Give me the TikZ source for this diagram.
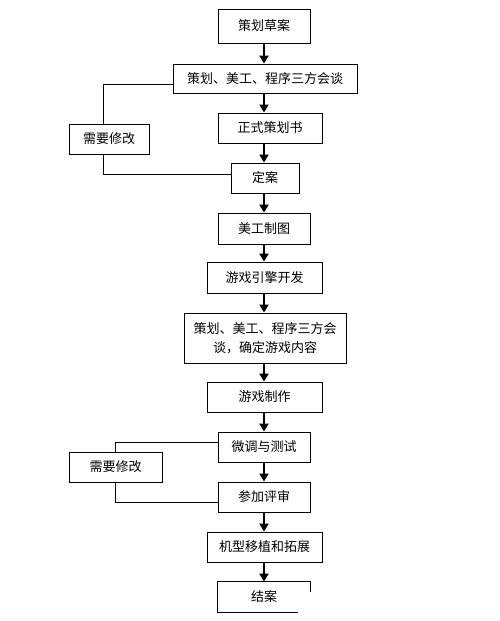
\documentclass[tikz,border=0pt]{standalone}
\usepackage{fontspec}
\setmainfont{Noto Sans CJK SC}
\usetikzlibrary{arrows.meta,calc}
\begin{document}
\begin{tikzpicture}[x=1pt,y=-1pt,
  box/.style={draw=black,line width=0.9pt,inner sep=0pt,font=\fontsize{13}{19}\selectfont,align=center},
  flow/.style={line width=2.4pt,-{Triangle[width=9pt,length=8pt]}},
  loopline/.style={line width=0.9pt}]
\useasboundingbox (0,0) rectangle (499,621);
\fill[white] (0,0) rectangle (499,621);
\coordinate (ax) at (264,0);
\node[box,minimum width=92pt,minimum height=34pt] (b1) at (264,26) {策划草案};
\node[box,minimum width=184pt,minimum height=29pt] (b2) at (265,78.5) {策划、美工、程序三方会谈};
\node[box,minimum width=104pt,minimum height=30pt] (b3) at (270,128) {正式策划书};
\node[box,minimum width=80pt,minimum height=30pt] (m1) at (109,139) {需要修改};
\node[box,minimum width=68pt,minimum height=30pt] (b4) at (265,178) {定案};
\node[box,minimum width=92pt,minimum height=31pt] (b5) at (264,228.5) {美工制图};
\node[box,minimum width=115pt,minimum height=31pt] (b6) at (264.5,277.5) {游戏引擎开发};
\node[box,minimum width=162pt,minimum height=50pt] (b7) at (265,338) {策划、美工、程序三方会\\谈，确定游戏内容};
\node[box,minimum width=115pt,minimum height=30pt] (b8) at (264.5,397) {游戏制作};
\node[box,minimum width=92pt,minimum height=30pt] (b9) at (264,447) {微调与测试};
\node[box,minimum width=93pt,minimum height=30pt] (m2) at (115.5,467) {需要修改};
\node[box,minimum width=92pt,minimum height=30pt] (b10) at (264,497) {参加评审};
\node[box,minimum width=115pt,minimum height=30pt] (b11) at (264.5,547) {机型移植和拓展};
\node[box,draw=none,minimum width=92pt,minimum height=30pt] (b12) at (264,597) {结案};
\draw[line width=0.9pt] ($(b12.north east)+(0,10)$) -- (b12.north east) -- (b12.north west) -- (b12.south west) -- ($(b12.south west)+(80,0)$);
% flow arrows
\foreach \a/\b in {b1/b2,b2/b3,b3/b4,b4/b5,b5/b6,b6/b7,b7/b8,b8/b9,b9/b10,b10/b11,b11/b12}
  \draw[flow] (\a.south -| ax) -- (\b.north -| ax);
% loops
\draw[loopline] ($(b2.west)+(0,5.5)$) -| ($(m1.north)+(-6,0)$);
\draw[loopline] ($(m1.south)+(-6,0)$) |- ($(b4.west)+(0,-4)$);
\draw[loopline] ($(b9.west)+(0,-5)$) -| (m2.north);
\draw[loopline] (m2.south) |- ($(b10.west)+(0,5)$);
\end{tikzpicture}
\end{document}
